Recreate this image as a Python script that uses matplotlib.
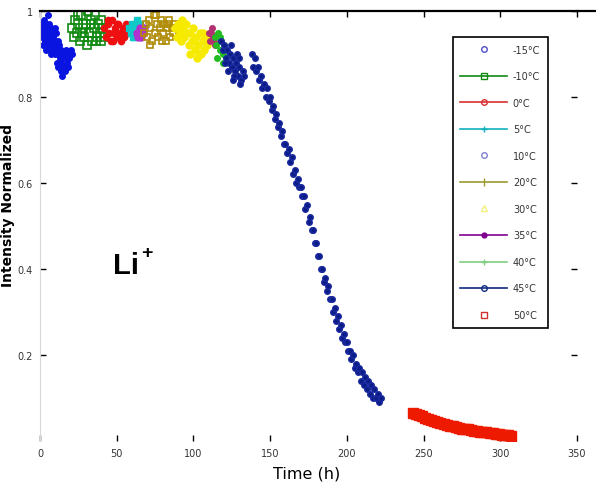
import matplotlib
matplotlib.use("Agg")
import matplotlib.pyplot as plt
from matplotlib.lines import Line2D

# ---------------- data ----------------
labels = ["-15°C", "-10°C", "0°C", "5°C", "10°C", "20°C", "30°C",
          "35°C", "40°C", "45°C", "50°C"]

t_m15 = [0.5, 1, 1.5, 2, 2, 2.5, 3, 3, 3.5, 4, 4, 4.5, 5, 5, 5.5, 6, 6, 6.5, 7, 7,
         7.5, 8, 8, 8.5, 9, 9.5, 10, 10, 10.5, 11, 11, 11.5, 12, 12, 12.5, 13, 13.5,
         14, 14, 14.5, 15, 15.5, 16, 16.5, 17, 17.5, 18, 18.5, 19, 20, 21]
y_m15 = [0.95, 0.97, 0.94, 0.96, 0.92, 0.98, 0.95, 0.93, 0.97, 0.94, 0.91, 0.96, 0.93,
         0.99, 0.95, 0.92, 0.97, 0.94, 0.90, 0.96, 0.93, 0.95, 0.91, 0.94, 0.92, 0.96,
         0.90, 0.93, 0.95, 0.91, 0.88, 0.93, 0.90, 0.87, 0.92, 0.89, 0.86, 0.91, 0.88,
         0.85, 0.90, 0.87, 0.89, 0.86, 0.91, 0.88, 0.90, 0.87, 0.89, 0.91, 0.90]

t_m10 = [21, 22, 23, 24, 25, 26, 27, 28, 29, 30, 31, 32, 33, 34, 35, 36, 37, 38, 39,
         40, 41, 42, 24.5, 27.5, 30.5, 33.5, 36.5, 39.5]
y_m10 = [0.96, 0.94, 0.98, 0.95, 0.97, 0.93, 0.99, 0.96, 0.94, 0.97, 1.00, 0.95, 0.98,
         0.93, 0.96, 0.99, 0.94, 0.97, 0.95, 0.93, 0.96, 0.94, 0.99, 0.95, 0.92, 0.97,
         0.93, 0.98]

t_0 = [42, 43, 44, 45, 46, 47, 48, 49, 50, 51, 52, 53, 54, 55, 56, 57, 58,
       44.5, 47.5, 50.5, 53.5, 56.5]
y_0 = [0.96, 0.94, 0.97, 0.95, 0.93, 0.98, 0.95, 0.96, 0.94, 0.97, 0.95, 0.93, 0.96,
       0.94, 0.97, 0.95, 0.96, 0.98, 0.93, 0.97, 0.94, 0.96]

t_5 = [58, 59, 60, 61, 62, 63, 64, 65, 66, 60.5, 62.5, 64.5]
y_5 = [0.96, 0.95, 0.97, 0.94, 0.96, 0.98, 0.95, 0.97, 0.96, 0.94, 0.97, 0.95]

t_10 = [63, 64, 65, 66, 67, 68]
y_10 = [0.95, 0.94, 0.96, 0.94, 0.95, 0.96]

t_20 = [68, 69, 70, 71, 72, 73, 74, 75, 76, 77, 78, 79, 80, 81, 82, 83, 84, 85, 86,
        87, 88, 71.5, 75.5, 79.5, 83.5]
y_20 = [0.95, 0.97, 0.94, 0.98, 0.96, 0.93, 0.99, 0.95, 0.97, 0.94, 0.96, 0.98, 0.95,
        0.97, 0.93, 0.96, 0.98, 0.94, 0.96, 0.95, 0.97, 0.92, 0.99, 0.93, 0.97]

t_30 = [88, 89, 90, 91, 92, 93, 94, 95, 96, 97, 98, 99, 100, 101, 102, 103, 104, 105,
        106, 107, 108, 109, 92.5, 97.5, 102.5, 106.5]
y_30 = [0.96, 0.94, 0.97, 0.95, 0.93, 0.96, 0.94, 0.97, 0.95, 0.92, 0.95, 0.93, 0.96,
        0.91, 0.94, 0.92, 0.95, 0.90, 0.93, 0.91, 0.94, 0.92, 0.98, 0.90, 0.89, 0.95]

t_35 = [110, 111, 112, 113, 114, 111.5, 113.5]
y_35 = [0.95, 0.93, 0.96, 0.94, 0.92, 0.95, 0.93]

t_40 = [114, 115, 116, 117, 118, 119, 120, 115.5, 117.5, 119.5]
y_40 = [0.94, 0.92, 0.95, 0.91, 0.93, 0.90, 0.92, 0.89, 0.94, 0.88]

t_45 = [118, 119, 120, 121, 122, 123, 124, 125, 126, 127, 128, 129, 130, 131, 132, 133,
        120.5, 122.5, 124.5, 126.5, 128.5, 130.5, 125.5, 129.5,
        138, 139, 140, 141, 142, 143, 144, 145, 146, 147, 148, 149, 150, 151, 152, 153,
        154, 155, 156, 157, 158, 159, 160, 161, 162, 163, 164, 165, 166, 167, 168, 169,
        170, 171, 172, 173, 174, 175, 176, 177, 178, 179, 180, 181, 182, 183, 184, 185,
        186, 187, 188, 189, 190, 191, 192, 193, 194, 195, 196, 197, 198, 199, 200, 201,
        202, 203, 204, 205, 206, 207, 208, 209, 210, 211, 212, 213, 214, 215, 216, 217,
        218, 219, 220, 221, 222]
y_45 = [0.93, 0.91, 0.92, 0.89, 0.91, 0.88, 0.90, 0.87, 0.89, 0.86, 0.88, 0.85, 0.87,
        0.84, 0.86, 0.85, 0.88, 0.86, 0.92, 0.85, 0.90, 0.83, 0.84, 0.89,
        0.90, 0.87, 0.89, 0.86, 0.87, 0.84, 0.85, 0.82, 0.83, 0.80, 0.82, 0.79, 0.80,
        0.77, 0.78, 0.75, 0.76, 0.73, 0.74, 0.71, 0.72, 0.69, 0.69, 0.67, 0.68, 0.65,
        0.66, 0.62, 0.63, 0.60, 0.61, 0.59, 0.59, 0.57, 0.57, 0.54, 0.55, 0.51, 0.52,
        0.49, 0.49, 0.46, 0.46, 0.43, 0.43, 0.40, 0.40, 0.37, 0.38, 0.35, 0.36, 0.33,
        0.33, 0.30, 0.31, 0.28, 0.29, 0.26, 0.27, 0.24, 0.25, 0.23, 0.23, 0.21, 0.21,
        0.19, 0.20, 0.17, 0.18, 0.16, 0.17, 0.14, 0.16, 0.13, 0.15, 0.12, 0.14, 0.11,
        0.13, 0.10, 0.12, 0.10, 0.11, 0.09, 0.10]

t_50 = [243, 245, 247, 249, 251, 253, 255, 257, 259, 261, 263, 265, 267, 269, 271, 273,
        275, 277, 279, 281, 283, 285, 287, 289, 291, 293, 295, 297, 299, 301, 303, 305, 307]
y_50 = [0.066, 0.063, 0.060, 0.057, 0.054, 0.051, 0.049, 0.047, 0.045, 0.042, 0.040,
        0.038, 0.036, 0.034, 0.033, 0.031, 0.029, 0.028, 0.027, 0.026, 0.024, 0.023,
        0.022, 0.021, 0.020, 0.019, 0.018, 0.017, 0.016, 0.015, 0.014, 0.013, 0.012]

xticks = [0, 50, 100, 150, 200, 250, 300, 350]
yticks = [0.2, 0.4, 0.6, 0.8, 1.0]
ytick_labels = ["0.2", "0.4", "0.6", "0.8", "1"]

# ---------------- styles ----------------
series = [
    (t_m15, y_m15, dict(color="#0a14e0", marker="o", ms=4, mfc="#0a14e0")),
    (t_m10, y_m10, dict(color="#118a11", marker="s", ms=6, mfc="none", mew=1.2)),
    (t_0,   y_0,   dict(color="#ee1010", marker="o", ms=4.5, mfc="#ee1010")),
    (t_5,   y_5,   dict(color="#10c8c8", marker="s", ms=4.5, mfc="#10c8c8")),
    (t_10,  y_10,  dict(color="#b030d0", marker="o", ms=5, mfc="#b030d0")),
    (t_20,  y_20,  dict(color="#b08c08", marker="s", ms=5, mfc="none", mew=1.2)),
    (t_30,  y_30,  dict(color="#f5ea00", marker="o", ms=5, mfc="#f5ea00")),
    (t_35,  y_35,  dict(color="#b03070", marker="o", ms=4, mfc="#b03070")),
    (t_40,  y_40,  dict(color="#22bb22", marker="o", ms=4, mfc="#22bb22")),
    (t_45,  y_45,  dict(color="#0c1c86", marker="o", ms=4, mfc="#0c1c86", mec="#1a2aa0")),
    (t_50,  y_50,  dict(color="#ee1a00", marker="s", ms=7, mfc="#ee1a00")),
]

legend_styles = [
    dict(color="#5050c8", ls="none", marker="o", mfc="none", ms=4),
    dict(color="#118a11", ls="-", marker="s", mfc="none", ms=4),
    dict(color="#d83030", ls="-", marker="o", mfc="none", ms=4),
    dict(color="#10b0c0", ls="-", marker="+", ms=4),
    dict(color="#8080d0", ls="none", marker="o", mfc="none", ms=4),
    dict(color="#9a9a30", ls="-", marker="|", ms=6),
    dict(color="#f5f080", ls="none", marker="^", mfc="none", ms=4),
    dict(color="#800090", ls="-", marker="o", ms=3.5),
    dict(color="#80cc80", ls="-", marker="+", ms=4),
    dict(color="#102a80", ls="-", marker="o", mfc="none", ms=4),
    dict(color="#d03030", ls="none", marker="s", mfc="none", ms=4),
]

# ---------------- figure ----------------
fig = plt.figure(figsize=(5.96, 4.85), dpi=100)
ax = fig.add_axes([40 / 596, 43 / 485, 537 / 596, 430 / 485])

for t, y, st in series:
    ax.plot(t, y, linestyle="none", **st)

ax.set_xlim(0, 350)
ax.set_ylim(0, 1)
ax.set_xticks(xticks)
ax.set_xticklabels([str(v) for v in xticks])
ax.set_yticks(yticks)
ax.set_yticklabels(ytick_labels)

ax.tick_params(axis="both", direction="in", length=4, width=1, color="black",
               labelsize=7, labelcolor="#333333", top=True, right=True)
ax.tick_params(axis="y", pad=5)
ax.tick_params(axis="x", pad=5)

for side in ["right", "bottom"]:
    ax.spines[side].set_visible(False)
ax.spines["left"].set_color("#d8d8d8")
ax.spines["left"].set_linewidth(0.8)
ax.spines["top"].set_color("black")
ax.spines["top"].set_linewidth(1.6)
# top frame line continues to the right edge of the picture
fig.add_artist(Line2D([577 / 596, 1.0], [1 - 12 / 485, 1 - 12 / 485],
                      color="black", lw=1.6, transform=fig.transFigure))

ax.set_xlabel("Time (h)", fontsize=11.5)
ax.xaxis.set_label_coords(0.496, -0.056)
ax.set_ylabel("Intensity Normalized", fontsize=10, fontweight="bold")
ax.yaxis.set_label_coords(-0.047, 0.55)

ax.text(56, 0.41, "Li", fontsize=21, fontweight="bold", ha="center", va="center",
        family=["Liberation Sans", "DejaVu Sans"])
ax.annotate("+", xy=(56, 0.41), xytext=(11, 9), textcoords="offset points",
            fontsize=14, fontweight="bold", ha="left", va="center",
            family=["Liberation Sans", "DejaVu Sans"])

handles = [Line2D([], [], lw=1.2, **st) for st in legend_styles]
leg = ax.legend(handles, labels, loc="upper right", bbox_to_anchor=(0.955, 0.951),
                fontsize=7, labelspacing=1.7, handlelength=4.8, borderpad=0.8,
                fancybox=False, frameon=True, framealpha=1, handletextpad=0.6)
leg.get_frame().set_edgecolor("black")
leg.get_frame().set_linewidth(1.2)
for txt in leg.get_texts():
    txt.set_color("#333333")

fig.savefig("out.png", dpi=100)
